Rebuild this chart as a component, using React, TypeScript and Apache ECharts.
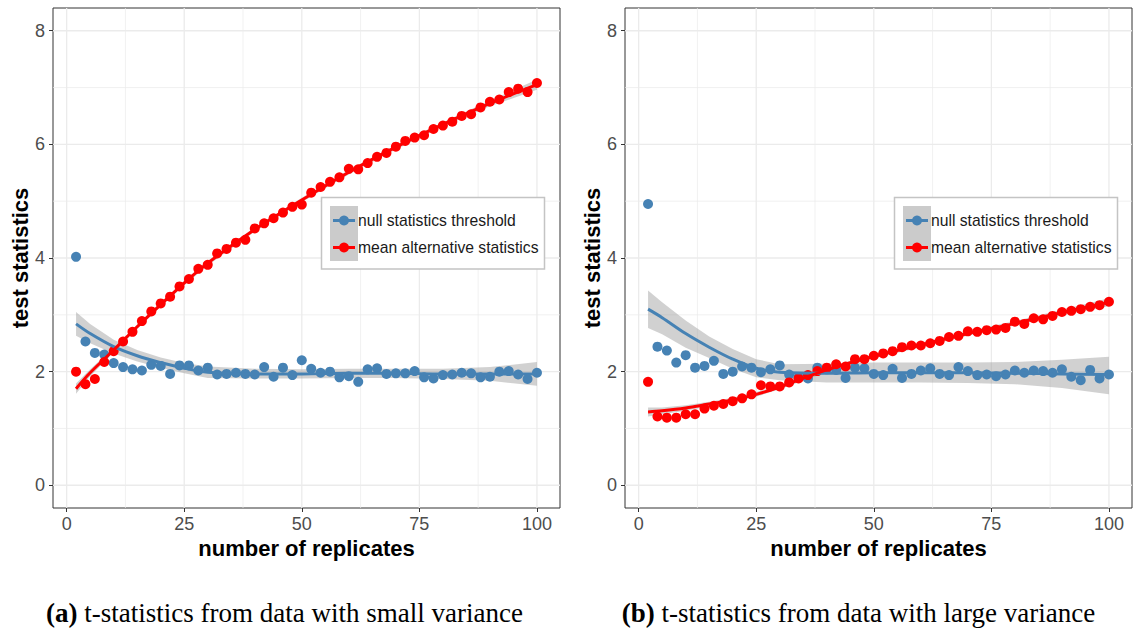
import { useEffect, useRef } from "react";
import * as echarts from "echarts";

// Number of replicates used for each simulation run
const REPLICATES = [
  2, 4, 6, 8, 10, 12, 14, 16, 18, 20, 22, 24, 26, 28, 30, 32, 34, 36, 38, 40,
  42, 44, 46, 48, 50, 52, 54, 56, 58, 60, 62, 64, 66, 68, 70, 72, 74, 76, 78, 80,
  82, 84, 86, 88, 90, 92, 94, 96, 98, 100,
];

const X_TICKS = [0, 25, 50, 75, 100];
const X_MINOR = [12.5, 37.5, 62.5, 87.5];
const Y_TICKS = [0, 2, 4, 6, 8];
const Y_MINOR = [1, 3, 5, 7];

// (a) small variance
const SMALL_NULL = [
  4.02, 2.53, 2.33, 2.3, 2.15, 2.08, 2.04, 2.02, 2.12, 2.1, 1.96, 2.11, 2.11, 2.02, 2.07,
  1.95, 1.96, 1.98, 1.96, 1.95, 2.08, 1.91, 2.07, 1.94, 2.2, 2.05, 1.98, 2.0, 1.9, 1.92,
  1.82, 2.04, 2.06, 1.96, 1.97, 1.97, 2.01, 1.9, 1.88, 1.94, 1.95, 1.98, 1.97, 1.9, 1.91,
  2.0, 2.01, 1.95, 1.87, 1.98,
];
const SMALL_ALT = [
  2.0, 1.78, 1.87, 2.17, 2.36, 2.53, 2.7, 2.89, 3.06, 3.2, 3.32, 3.5, 3.63, 3.81, 3.88,
  4.08, 4.16, 4.27, 4.32, 4.52, 4.61, 4.7, 4.8, 4.9, 4.94, 5.15, 5.25, 5.34, 5.42, 5.57,
  5.56, 5.67, 5.78, 5.85, 5.96, 6.06, 6.12, 6.16, 6.27, 6.33, 6.4, 6.5, 6.53, 6.65, 6.75,
  6.79, 6.92, 6.98, 6.92, 7.08,
];

// (b) large variance
const LARGE_NULL = [
  4.95, 2.44, 2.37, 2.16, 2.29, 2.07, 2.1, 2.19, 1.96, 2.0, 2.09, 2.07, 1.99, 2.04, 2.11,
  1.95, 1.9, 1.88, 2.07, 2.04, 2.03, 1.89, 2.07, 2.06, 1.96, 1.94, 2.05, 1.89, 1.96, 2.02,
  2.06, 1.96, 1.94, 2.08, 2.01, 1.94, 1.95, 1.92, 1.95, 2.02, 1.98, 2.02, 2.01, 1.98, 2.04,
  1.91, 1.85, 2.03, 1.88, 1.95,
];
const LARGE_ALT = [
  1.82, 1.21, 1.19, 1.19, 1.25, 1.25, 1.35, 1.4, 1.43, 1.48, 1.53, 1.6, 1.76, 1.74, 1.74,
  1.81, 1.88, 1.94, 2.01, 2.07, 2.13, 2.09, 2.22, 2.22, 2.28, 2.32, 2.36, 2.43, 2.46, 2.46,
  2.5, 2.54, 2.61, 2.63, 2.71, 2.7, 2.73, 2.74, 2.77, 2.88, 2.84, 2.94, 2.92, 2.98, 3.05,
  3.07, 3.1, 3.14, 3.17, 3.23,
];

// Loess fits with confidence bands, sampled along the replicate axis
const FIT_X = [2, 5, 10, 15, 20, 25, 30, 40, 50, 60, 70, 80, 90, 100];

const SMALL_NULL_FIT = [2.84, 2.67, 2.44, 2.28, 2.16, 2.06, 1.99, 1.96, 1.96, 1.97, 1.97, 1.96, 1.96, 1.96];
const SMALL_NULL_LO = [2.63, 2.5, 2.32, 2.18, 2.07, 1.97, 1.89, 1.88, 1.88, 1.89, 1.89, 1.87, 1.84, 1.75];
const SMALL_NULL_HI = [3.05, 2.84, 2.56, 2.38, 2.25, 2.15, 2.09, 2.05, 2.04, 2.05, 2.05, 2.05, 2.08, 2.17];

const SMALL_ALT_FIT = [1.7, 1.98, 2.38, 2.79, 3.18, 3.56, 3.91, 4.5, 5.02, 5.51, 5.95, 6.35, 6.72, 7.05];
const SMALL_ALT_LO = [1.61, 1.92, 2.34, 2.75, 3.14, 3.52, 3.87, 4.46, 4.98, 5.47, 5.91, 6.31, 6.67, 6.96];
const SMALL_ALT_HI = [1.79, 2.04, 2.42, 2.83, 3.22, 3.6, 3.95, 4.54, 5.06, 5.55, 5.99, 6.39, 6.77, 7.14];

const LARGE_NULL_FIT = [3.1, 2.95, 2.67, 2.43, 2.22, 2.06, 1.99, 1.97, 1.98, 1.98, 1.98, 1.97, 1.96, 1.95];
const LARGE_NULL_LO = [2.77, 2.66, 2.42, 2.24, 2.05, 1.9, 1.85, 1.81, 1.81, 1.81, 1.8, 1.78, 1.71, 1.6];
const LARGE_NULL_HI = [3.43, 3.22, 2.9, 2.62, 2.4, 2.22, 2.13, 2.14, 2.16, 2.16, 2.16, 2.17, 2.21, 2.26];

const LARGE_ALT_FIT = [1.29, 1.31, 1.36, 1.43, 1.5, 1.6, 1.73, 2.03, 2.27, 2.47, 2.67, 2.85, 3.04, 3.22];
const LARGE_ALT_LO = [1.21, 1.25, 1.31, 1.39, 1.46, 1.56, 1.69, 1.99, 2.23, 2.43, 2.63, 2.81, 2.99, 3.15];
const LARGE_ALT_HI = [1.37, 1.37, 1.41, 1.47, 1.54, 1.64, 1.77, 2.07, 2.31, 2.51, 2.71, 2.89, 3.09, 3.29];

const LEGEND_NAMES = ["null statistics threshold", "mean alternative statistics"];
const CAPTIONS = [
  ["(a)", " t-statistics from data with small variance"],
  ["(b)", " t-statistics from data with large variance"],
];

const BLUE = "#4682B4";
const RED = "#FF0000";
const SANS = "Liberation Sans, Arial, sans-serif";
const SERIF = "Liberation Serif, Times New Roman, serif";

const GRIDS = [
  { left: 53, top: 8, width: 507, height: 500 },
  { left: 625, top: 8, width: 507, height: 500 },
];

const renderGridLines = (params: any, api: any) => {
  const cs = params.coordSys;
  const children: any[] = [];
  const vLine = (v: number, w: number) => {
    const px = api.coord([v, 0])[0];
    children.push({
      type: "line",
      shape: { x1: px, y1: cs.y, x2: px, y2: cs.y + cs.height },
      style: { stroke: "#ebebeb", lineWidth: w },
    });
  };
  const hLine = (v: number, w: number) => {
    const py = api.coord([0, v])[1];
    children.push({
      type: "line",
      shape: { x1: cs.x, y1: py, x2: cs.x + cs.width, y2: py },
      style: { stroke: "#ebebeb", lineWidth: w },
    });
  };
  X_MINOR.forEach((v) => vLine(v, 0.7));
  Y_MINOR.forEach((v) => hLine(v, 0.7));
  X_TICKS.forEach((v) => vLine(v, 1.3));
  Y_TICKS.forEach((v) => hLine(v, 1.3));
  return { type: "group", children };
};

const makeBand = (lo: number[], hi: number[]) => (_params: any, api: any) => {
  const pts: number[][] = [];
  FIT_X.forEach((x, i) => pts.push(api.coord([x, hi[i]])));
  for (let i = FIT_X.length - 1; i >= 0; i--) pts.push(api.coord([FIT_X[i], lo[i]]));
  return {
    type: "polygon",
    shape: { points: pts },
    style: { fill: "rgba(153,153,153,0.45)" },
  };
};

const panelSeries = (
  p: number,
  nullVals: number[],
  altVals: number[],
  nullFit: number[],
  nullLo: number[],
  nullHi: number[],
  altFit: number[],
  altLo: number[],
  altHi: number[]
) => [
  {
    type: "custom",
    xAxisIndex: p,
    yAxisIndex: p,
    z: 1,
    silent: true,
    data: [[0, 0]],
    renderItem: renderGridLines,
  },
  {
    type: "custom",
    xAxisIndex: p,
    yAxisIndex: p,
    z: 2,
    silent: true,
    data: [[0, 0]],
    renderItem: makeBand(nullLo, nullHi),
  },
  {
    type: "custom",
    xAxisIndex: p,
    yAxisIndex: p,
    z: 2,
    silent: true,
    data: [[0, 0]],
    renderItem: makeBand(altLo, altHi),
  },
  {
    type: "scatter",
    name: LEGEND_NAMES[0],
    xAxisIndex: p,
    yAxisIndex: p,
    z: 3,
    symbolSize: 10,
    itemStyle: { color: BLUE, opacity: 1 },
    data: REPLICATES.map((x, i) => [x, nullVals[i]]),
  },
  {
    type: "scatter",
    name: LEGEND_NAMES[1],
    xAxisIndex: p,
    yAxisIndex: p,
    z: 3,
    symbolSize: 10,
    itemStyle: { color: RED, opacity: 1 },
    data: REPLICATES.map((x, i) => [x, altVals[i]]),
  },
  {
    type: "line",
    xAxisIndex: p,
    yAxisIndex: p,
    z: 4,
    smooth: 0.35,
    showSymbol: false,
    lineStyle: { color: BLUE, width: 3 },
    data: FIT_X.map((x, i) => [x, nullFit[i]]),
  },
  {
    type: "line",
    xAxisIndex: p,
    yAxisIndex: p,
    z: 4,
    smooth: 0.35,
    showSymbol: false,
    lineStyle: { color: RED, width: 3 },
    data: FIT_X.map((x, i) => [x, altFit[i]]),
  },
];

const legendGraphic = (left: number) => {
  const top = 197.5;
  const rows = [220.5, 247.5];
  const colors = [BLUE, RED];
  const els: any[] = [
    {
      type: "rect",
      shape: { x: left, y: top, width: 223, height: 71.5 },
      style: { fill: "#ffffff", stroke: "#c4c4c4", lineWidth: 1.5 },
      z: 10,
    },
    {
      type: "rect",
      shape: { x: left + 8.5, y: 206, width: 28, height: 55 },
      style: { fill: "#cbcbcb" },
      z: 11,
    },
  ];
  rows.forEach((y, i) => {
    els.push({
      type: "line",
      shape: { x1: left + 11.5, y1: y, x2: left + 33.5, y2: y },
      style: { stroke: colors[i], lineWidth: 3 },
      z: 12,
    });
    els.push({
      type: "circle",
      shape: { cx: left + 22.5, cy: y, r: 5 },
      style: { fill: colors[i] },
      z: 12,
    });
    els.push({
      type: "text",
      x: left + 36.5,
      y,
      style: {
        text: LEGEND_NAMES[i],
        fontSize: 15.7,
        fontFamily: SANS,
        fill: "#1a1a1a",
        align: "left",
        verticalAlign: "middle",
      },
      z: 12,
    });
  });
  return els;
};

const captionGraphic = (cx: number, parts: string[]) => ({
  type: "text",
  x: cx,
  y: 613,
  style: {
    text: `{b|${parts[0]}}${parts[1]}`,
    fontSize: 27,
    fontFamily: SERIF,
    fill: "#000000",
    align: "center",
    verticalAlign: "middle",
    rich: {
      b: { fontSize: 27, fontFamily: SERIF, fontWeight: "bold", fill: "#000000" },
    },
  },
});

const axisTitle = { color: "#000000", fontSize: 22, fontWeight: "bold" as const, fontFamily: SANS };
const tickLabel = { color: "#4d4d4d", fontSize: 18, fontFamily: SANS };

const makeXAxis = (p: number) => ({
  gridIndex: p,
  type: "value",
  min: -2.9,
  max: 104.9,
  axisLine: { show: false, onZero: false },
  axisTick: { show: true, length: 4, customValues: X_TICKS, lineStyle: { color: "#333333", width: 1 } },
  axisLabel: { ...tickLabel, margin: 7, customValues: X_TICKS },
  splitLine: { show: false },
  name: "number of replicates",
  nameLocation: "middle",
  nameGap: 28,
  nameTextStyle: axisTitle,
});

const makeYAxis = (p: number) => ({
  gridIndex: p,
  type: "value",
  min: -0.4,
  max: 8.4,
  axisLine: { show: false, onZero: false },
  axisTick: { show: true, length: 4, customValues: Y_TICKS, lineStyle: { color: "#333333", width: 1 } },
  axisLabel: { ...tickLabel, margin: 8, customValues: Y_TICKS },
  splitLine: { show: false },
  name: "test statistics",
  nameLocation: "middle",
  nameGap: 22,
  nameTextStyle: axisTitle,
});

export default function App() {
  const ref = useRef<HTMLDivElement>(null);

  useEffect(() => {
    if (!ref.current) return;
    const chart = echarts.init(ref.current, null, { renderer: "svg" });
    chart.setOption({
      animation: false,
      backgroundColor: "#ffffff",
      textStyle: { fontFamily: SANS },
      grid: GRIDS.map((g) => ({
        ...g,
        show: true,
        borderColor: "#333333",
        borderWidth: 1,
        backgroundColor: "transparent",
        containLabel: false,
      })),
      xAxis: [makeXAxis(0), makeXAxis(1)],
      yAxis: [makeYAxis(0), makeYAxis(1)],
      series: [
        ...panelSeries(
          0,
          SMALL_NULL,
          SMALL_ALT,
          SMALL_NULL_FIT,
          SMALL_NULL_LO,
          SMALL_NULL_HI,
          SMALL_ALT_FIT,
          SMALL_ALT_LO,
          SMALL_ALT_HI
        ),
        ...panelSeries(
          1,
          LARGE_NULL,
          LARGE_ALT,
          LARGE_NULL_FIT,
          LARGE_NULL_LO,
          LARGE_NULL_HI,
          LARGE_ALT_FIT,
          LARGE_ALT_LO,
          LARGE_ALT_HI
        ),
      ],
      graphic: [
        ...legendGraphic(321.5),
        ...legendGraphic(894.5),
        captionGraphic(284.5, CAPTIONS[0]),
        captionGraphic(858.5, CAPTIONS[1]),
      ],
    });
    return () => chart.dispose();
  }, []);

  return (
    <div
      ref={ref}
      style={{ position: "fixed", left: 0, top: 0, width: 1134, height: 631 }}
    />
  );
}
